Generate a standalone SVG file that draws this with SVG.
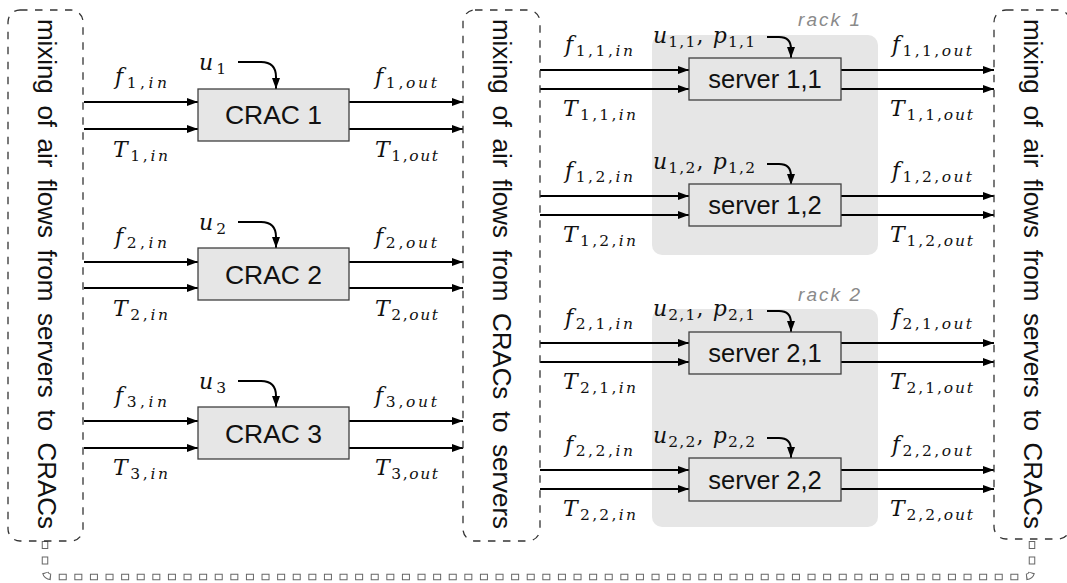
<svg xmlns="http://www.w3.org/2000/svg" width="1067" height="583" viewBox="0 0 1067 583">
<style>
.mix{fill:none;stroke:#333;stroke-width:1.3;stroke-dasharray:7.5 7.5}
.mixt{font-family:"Liberation Sans",Arial,sans-serif;font-size:26px;word-spacing:4.5px;fill:#111}
.rack{fill:#e6e6e6;stroke:none}
.rackt{font-family:"Liberation Sans",Arial,sans-serif;font-style:italic;font-size:19px;fill:#8a8a8a}
.box{fill:#e6e6e6;stroke:#404040;stroke-width:1.3}
.crt{font-family:"Liberation Sans",Arial,sans-serif;font-size:26.5px;fill:#111;text-anchor:middle}
.svt{font-family:"Liberation Sans",Arial,sans-serif;font-size:25.5px;fill:#111;text-anchor:middle}
.m{font-family:"DejaVu Serif",serif;font-style:italic;font-size:22px;fill:#111}
.s{font-size:15.5px}
.up{font-style:normal}
.ln{fill:none;stroke:#000;stroke-width:2;marker-end:url(#ah)}
.dbo{fill:none;stroke:#666;stroke-width:6.5;stroke-dasharray:8 7.6}
.dbi{fill:none;stroke:#fff;stroke-width:4.5;stroke-dasharray:6 9.6;stroke-dashoffset:-1}
</style>
<defs>
<marker id="ah" markerWidth="12" markerHeight="10" refX="11" refY="5" orient="auto" markerUnits="userSpaceOnUse">
<path d="M0,1 L11,5 L0,9 Z" fill="#000"/>
</marker>
</defs>

<g id="racks">
<rect class="rack" x="652" y="35" width="226" height="220" rx="10"/>
<text class="rackt" x="798" y="26" textLength="62">rack 1</text>
<rect class="rack" x="652" y="309" width="226" height="218" rx="10"/>
<text class="rackt" x="798" y="301" textLength="62">rack 2</text>
</g>

<g id="connectors">
<path class="dbo" d="M45,541 V570 Q45,577 52,577 H1025 Q1032,577 1032,570 V539"/>
<path class="dbi" d="M45,541 V570 Q45,577 52,577 H1025 Q1032,577 1032,570 V539"/>
<path class="ln" d="M84,102 H198"/><path class="ln" d="M84,129 H198"/>
<path class="ln" d="M349,102 H463"/><path class="ln" d="M349,129 H463"/>
<path class="ln" d="M84,262 H198"/><path class="ln" d="M84,288 H198"/>
<path class="ln" d="M349,262 H463"/><path class="ln" d="M349,288 H463"/>
<path class="ln" d="M84,421 H198"/><path class="ln" d="M84,448 H198"/>
<path class="ln" d="M349,421 H463"/><path class="ln" d="M349,448 H463"/>
<path class="ln" d="M238,62 H261 Q276,62 276,77 V89"/>
<path class="ln" d="M238,222 H261 Q276,222 276,237 V248"/>
<path class="ln" d="M238,381 H261 Q276,381 276,396 V407"/>
<path class="ln" d="M540,70 H689"/><path class="ln" d="M540,89 H689"/>
<path class="ln" d="M841,70 H994"/><path class="ln" d="M841,89 H994"/>
<path class="ln" d="M540,196 H689"/><path class="ln" d="M540,215 H689"/>
<path class="ln" d="M841,196 H994"/><path class="ln" d="M841,215 H994"/>
<path class="ln" d="M540,343 H689"/><path class="ln" d="M540,362 H689"/>
<path class="ln" d="M841,343 H994"/><path class="ln" d="M841,362 H994"/>
<path class="ln" d="M540,470 H689"/><path class="ln" d="M540,489 H689"/>
<path class="ln" d="M841,470 H994"/><path class="ln" d="M841,489 H994"/>
<path class="ln" d="M767,37 H779 Q791,37 791,49 V58"/>
<path class="ln" d="M767,164 H779 Q791,164 791,176 V185"/>
<path class="ln" d="M767,311 H779 Q791,311 791,323 V332"/>
<path class="ln" d="M767,438 H779 Q791,438 791,450 V458"/>
</g>

<g id="mix-left">
<rect class="mix" x="8" y="10" width="75" height="531" rx="12"/>
<text class="mixt" x="19" y="-38" transform="rotate(90)" textLength="510" lengthAdjust="spacing">mixing of air flows from servers to CRACs</text>
</g>
<g id="mix-mid">
<rect class="mix" x="463" y="10" width="77" height="531" rx="12"/>
<text class="mixt" x="19" y="-493" transform="rotate(90)" textLength="510" lengthAdjust="spacing">mixing of air flows from CRACs to servers</text>
</g>
<g id="mix-right">
<rect class="mix" x="994" y="10" width="76" height="529" rx="12"/>
<text class="mixt" x="19" y="-1024" transform="rotate(90)" textLength="510" lengthAdjust="spacing">mixing of air flows from servers to CRACs</text>
</g>

<g id="crac1">
<rect class="box" x="198" y="89" width="151" height="52"/>
<text class="crt" x="273.5" y="124">CRAC 1</text>
<text class="m" x="115" y="84" textLength="52">f<tspan class="s" dy="4"><tspan class="up">1,</tspan>in</tspan></text>
<text class="m" x="113" y="157" textLength="55">T<tspan class="s" dy="4"><tspan class="up">1,</tspan>in</tspan></text>
<text class="m" x="199" y="70" textLength="27">u<tspan class="s up" dy="4">1</tspan></text>
<text class="m" x="375" y="84" textLength="62">f<tspan class="s" dy="4"><tspan class="up">1,</tspan>out</tspan></text>
<text class="m" x="375" y="157" textLength="63">T<tspan class="s" dy="4"><tspan class="up">1,</tspan>out</tspan></text>
</g>
<g id="crac2">
<rect class="box" x="198" y="248" width="151" height="52"/>
<text class="crt" x="273.5" y="284">CRAC 2</text>
<text class="m" x="115" y="244" textLength="52">f<tspan class="s" dy="4"><tspan class="up">2,</tspan>in</tspan></text>
<text class="m" x="113" y="316" textLength="55">T<tspan class="s" dy="4"><tspan class="up">2,</tspan>in</tspan></text>
<text class="m" x="199" y="230" textLength="27">u<tspan class="s up" dy="4">2</tspan></text>
<text class="m" x="375" y="244" textLength="62">f<tspan class="s" dy="4"><tspan class="up">2,</tspan>out</tspan></text>
<text class="m" x="375" y="316" textLength="63">T<tspan class="s" dy="4"><tspan class="up">2,</tspan>out</tspan></text>
</g>
<g id="crac3">
<rect class="box" x="198" y="407" width="151" height="52"/>
<text class="crt" x="273.5" y="443">CRAC 3</text>
<text class="m" x="115" y="403" textLength="52">f<tspan class="s" dy="4"><tspan class="up">3,</tspan>in</tspan></text>
<text class="m" x="113" y="475" textLength="55">T<tspan class="s" dy="4"><tspan class="up">3,</tspan>in</tspan></text>
<text class="m" x="199" y="389" textLength="27">u<tspan class="s up" dy="4">3</tspan></text>
<text class="m" x="375" y="403" textLength="62">f<tspan class="s" dy="4"><tspan class="up">3,</tspan>out</tspan></text>
<text class="m" x="375" y="475" textLength="63">T<tspan class="s" dy="4"><tspan class="up">3,</tspan>out</tspan></text>
</g>

<g id="server11">
<rect class="box" x="689" y="58" width="152" height="42"/>
<text class="svt" x="765" y="88">server 1,1</text>
<text class="m" x="565" y="52" textLength="68">f<tspan class="s" dy="4"><tspan class="up">1,1,</tspan>in</tspan></text>
<text class="m" x="563" y="116" textLength="73">T<tspan class="s" dy="4"><tspan class="up">1,1,</tspan>in</tspan></text>
<text class="m" x="653" y="43" textLength="102">u<tspan class="s up" dy="4">1,1</tspan><tspan class="up" dy="-4">, </tspan>p<tspan class="s up" dy="4">1,1</tspan></text>
<text class="m" x="892" y="52" textLength="80">f<tspan class="s" dy="4"><tspan class="up">1,1,</tspan>out</tspan></text>
<text class="m" x="890" y="116" textLength="83">T<tspan class="s" dy="4"><tspan class="up">1,1,</tspan>out</tspan></text>
</g>
<g id="server12">
<rect class="box" x="689" y="184" width="152" height="42"/>
<text class="svt" x="765" y="214">server 1,2</text>
<text class="m" x="565" y="178" textLength="68">f<tspan class="s" dy="4"><tspan class="up">1,2,</tspan>in</tspan></text>
<text class="m" x="563" y="242" textLength="73">T<tspan class="s" dy="4"><tspan class="up">1,2,</tspan>in</tspan></text>
<text class="m" x="653" y="169" textLength="102">u<tspan class="s up" dy="4">1,2</tspan><tspan class="up" dy="-4">, </tspan>p<tspan class="s up" dy="4">1,2</tspan></text>
<text class="m" x="892" y="178" textLength="80">f<tspan class="s" dy="4"><tspan class="up">1,2,</tspan>out</tspan></text>
<text class="m" x="890" y="242" textLength="83">T<tspan class="s" dy="4"><tspan class="up">1,2,</tspan>out</tspan></text>
</g>
<g id="server21">
<rect class="box" x="689" y="332" width="152" height="42"/>
<text class="svt" x="765" y="362">server 2,1</text>
<text class="m" x="565" y="325" textLength="68">f<tspan class="s" dy="4"><tspan class="up">2,1,</tspan>in</tspan></text>
<text class="m" x="563" y="389" textLength="73">T<tspan class="s" dy="4"><tspan class="up">2,1,</tspan>in</tspan></text>
<text class="m" x="653" y="316" textLength="102">u<tspan class="s up" dy="4">2,1</tspan><tspan class="up" dy="-4">, </tspan>p<tspan class="s up" dy="4">2,1</tspan></text>
<text class="m" x="892" y="325" textLength="80">f<tspan class="s" dy="4"><tspan class="up">2,1,</tspan>out</tspan></text>
<text class="m" x="890" y="389" textLength="83">T<tspan class="s" dy="4"><tspan class="up">2,1,</tspan>out</tspan></text>
</g>
<g id="server22">
<rect class="box" x="689" y="458" width="152" height="43"/>
<text class="svt" x="765" y="489">server 2,2</text>
<text class="m" x="565" y="452" textLength="68">f<tspan class="s" dy="4"><tspan class="up">2,2,</tspan>in</tspan></text>
<text class="m" x="563" y="516" textLength="73">T<tspan class="s" dy="4"><tspan class="up">2,2,</tspan>in</tspan></text>
<text class="m" x="653" y="443" textLength="102">u<tspan class="s up" dy="4">2,2</tspan><tspan class="up" dy="-4">, </tspan>p<tspan class="s up" dy="4">2,2</tspan></text>
<text class="m" x="892" y="452" textLength="80">f<tspan class="s" dy="4"><tspan class="up">2,2,</tspan>out</tspan></text>
<text class="m" x="890" y="516" textLength="83">T<tspan class="s" dy="4"><tspan class="up">2,2,</tspan>out</tspan></text>
</g>
</svg>
